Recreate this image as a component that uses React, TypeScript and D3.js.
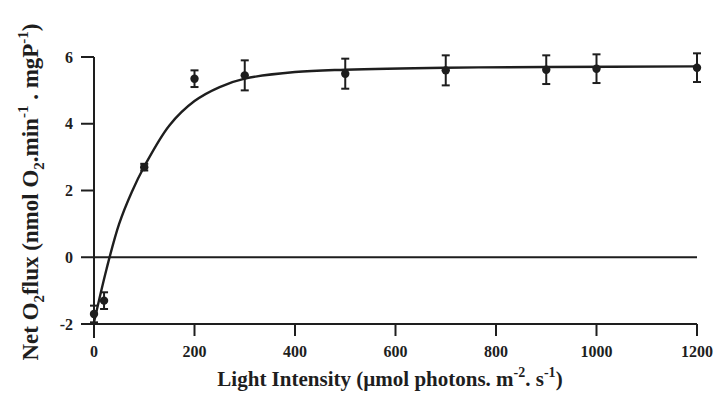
import React from 'react';
import * as d3 from 'd3';

// measured points (light intensity vs net O2 flux), with error bars
const lightLevels = [0, 20, 100, 200, 300, 500, 700, 900, 1000, 1200];
const netFlux = [-1.7, -1.3, 2.7, 5.35, 5.45, 5.5, 5.6, 5.62, 5.65, 5.68];
const fluxErr = [0.25, 0.25, 0.1, 0.25, 0.45, 0.45, 0.45, 0.43, 0.43, 0.43];

// fitted P-I curve
const curveLight = [0, 25, 50, 75, 100, 150, 200, 250, 300, 400, 500, 700, 900, 1200];
const curveFlux = [-1.95, -0.35, 1.0, 1.95, 2.72, 3.95, 4.68, 5.1, 5.35, 5.55, 5.62, 5.68, 5.7, 5.72];

const xTicks = [0, 200, 400, 600, 800, 1000, 1200];
const yTicks = [-2, 0, 2, 4, 6];

const W = 716;
const H = 398;
const font = "'Liberation Serif', 'Times New Roman', serif";
const ink = '#1e1e1e';

export default function App() {
  const x = d3.scaleLinear().domain([0, 1200]).range([94, 697]);
  const y = d3.scaleLinear().domain([-2, 6]).range([324, 57]);

  const line = d3.line<number>()
    .x((_, i) => x(curveLight[i]))
    .y(d => y(d))
    .curve(d3.curveCatmullRom.alpha(0.5));

  const x0 = x(0);
  const yBase = y(-2);

  return (
    <svg width={W} height={H} style={{ position: 'absolute', left: 0, top: 0, background: '#fff' }}>
      {/* y axis */}
      <line x1={x0} x2={x0} y1={y(6)} y2={yBase + 14} stroke={ink} strokeWidth={2} />
      {yTicks.map(t => (
        <g key={'y' + t}>
          <line x1={x0 - 13} x2={x0} y1={y(t)} y2={y(t)} stroke={ink} strokeWidth={2} />
          <text x={x0 - 21} y={y(t)} dy="0.35em" textAnchor="end" fontFamily={font}
            fontWeight="bold" fontSize={16} fill={ink}>{t}</text>
        </g>
      ))}

      {/* x axis */}
      <line x1={x0} x2={x(1200)} y1={yBase} y2={yBase} stroke={ink} strokeWidth={2} />
      {xTicks.map(t => (
        <g key={'x' + t}>
          <line x1={x(t)} x2={x(t)} y1={yBase} y2={yBase + 12} stroke={ink} strokeWidth={2} />
          <text x={x(t)} y={yBase + 33} textAnchor="middle" fontFamily={font}
            fontWeight="bold" fontSize={16} fill={ink}>{t}</text>
        </g>
      ))}

      {/* zero line */}
      <line x1={x0} x2={x(1200)} y1={y(0)} y2={y(0)} stroke={ink} strokeWidth={1.8} />

      {/* fitted curve */}
      <path d={line(curveFlux) ?? ''} fill="none" stroke={ink} strokeWidth={2.4} />

      {/* points with error bars */}
      {lightLevels.map((l, i) => {
        const cx = x(l);
        const top = y(netFlux[i] + fluxErr[i]);
        const bot = y(netFlux[i] - fluxErr[i]);
        return (
          <g key={'p' + l}>
            <line x1={cx} x2={cx} y1={top} y2={bot} stroke={ink} strokeWidth={2} />
            <line x1={cx - 4} x2={cx + 4} y1={top} y2={top} stroke={ink} strokeWidth={2} />
            <line x1={cx - 4} x2={cx + 4} y1={bot} y2={bot} stroke={ink} strokeWidth={2} />
            <circle cx={cx} cy={y(netFlux[i])} r={4.2} fill={ink} />
          </g>
        );
      })}

      {/* axis titles */}
      <text x={390} y={386} textAnchor="middle" fontFamily={font} fontWeight="bold"
        fontSize={21} fill={ink}>
        Light Intensity (µmol photons. m<tspan dy={-9} fontSize={14}>-2</tspan>
        <tspan dy={9}>. s</tspan><tspan dy={-9} fontSize={14}>-1</tspan><tspan dy={9}>)</tspan>
      </text>

      <text transform="translate(38,192) rotate(-90)" textAnchor="middle" fontFamily={font}
        fontWeight="bold" fontSize={23} fill={ink}>
        Net O<tspan dy={6} fontSize={15}>2</tspan><tspan dy={-6}>flux (nmol O</tspan>
        <tspan dy={6} fontSize={15}>2</tspan><tspan dy={-6}>.min</tspan>
        <tspan dy={-10} fontSize={15}>-1</tspan><tspan dy={10}> . mgP</tspan>
        <tspan dy={-10} fontSize={15}>-1</tspan><tspan dy={10}>)</tspan>
      </text>
    </svg>
  );
}
